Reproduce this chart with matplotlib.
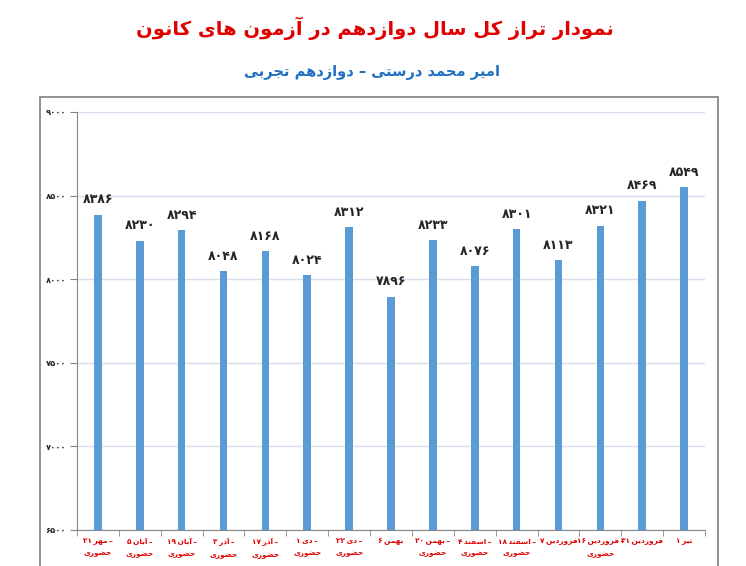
import matplotlib.pyplot as plt
from matplotlib.patches import Rectangle
import numpy as np

# --- data ---
days = ["۲۱", "۵", "۱۹", "۳", "۱۷", "۱", "۲۲", "۶", "۲۰", "۴", "۱۸", "۷", "۱۶", "۳۱", "۱"]
months = ["مهر", "آبان", "آبان", "آذر", "آذر", "دی", "دی", "بهمن", "بهمن",
          "اسفند", "اسفند", "فروردین", "فروردین", "فروردین", "تیر"]
in_person = [1, 1, 1, 1, 1, 1, 1, 0, 1, 1, 1, 0, 1, 0, 0]
scores = [8386, 8230, 8294, 8048, 8168, 8024, 8312, 7896, 8233, 8076, 8301, 8113, 8321, 8469, 8549]
yticks = [6500, 7000, 7500, 8000, 8500, 9000]

title = "نمودار تراز کل سال دوازدهم در آزمون های کانون"
subtitle = "امیر محمد درستی – دوازدهم تجربی"
hozouri = "حضوری"

# --- minimal Persian shaping (isolated, final, initial, medial) ---
FORMS = {
    "ا": ("\uFE8D", "\uFE8E", None, None),
    "آ": ("\uFE81", "\uFE82", None, None),
    "ب": ("\uFE8F", "\uFE90", "\uFE91", "\uFE92"),
    "ت": ("\uFE95", "\uFE96", "\uFE97", "\uFE98"),
    "ج": ("\uFE9D", "\uFE9E", "\uFE9F", "\uFEA0"),
    "ح": ("\uFEA1", "\uFEA2", "\uFEA3", "\uFEA4"),
    "د": ("\uFEA9", "\uFEAA", None, None),
    "ذ": ("\uFEAB", "\uFEAC", None, None),
    "ر": ("\uFEAD", "\uFEAE", None, None),
    "ز": ("\uFEAF", "\uFEB0", None, None),
    "س": ("\uFEB1", "\uFEB2", "\uFEB3", "\uFEB4"),
    "ض": ("\uFEBD", "\uFEBE", "\uFEBF", "\uFEC0"),
    "ف": ("\uFED1", "\uFED2", "\uFED3", "\uFED4"),
    "ک": ("\uFB8E", "\uFB8F", "\uFB90", "\uFB91"),
    "ل": ("\uFEDD", "\uFEDE", "\uFEDF", "\uFEE0"),
    "م": ("\uFEE1", "\uFEE2", "\uFEE3", "\uFEE4"),
    "ن": ("\uFEE5", "\uFEE6", "\uFEE7", "\uFEE8"),
    "و": ("\uFEED", "\uFEEE", None, None),
    "ه": ("\uFEE9", "\uFEEA", "\uFEEB", "\uFEEC"),
    "ی": ("\uFBFC", "\uFBFD", "\uFBFE", "\uFBFF"),
}


def rtl(text):
    out = []
    for i, ch in enumerate(text):
        if ch not in FORMS:
            out.append(ch)
            continue
        iso, fin, ini, med = FORMS[ch]
        prev = text[i - 1] if i > 0 else ""
        nxt = text[i + 1] if i + 1 < len(text) else ""
        pj = prev in FORMS and FORMS[prev][2] is not None
        nj = nxt in FORMS and ini is not None
        if pj and nj:
            out.append(med)
        elif pj:
            out.append(fin)
        elif nj:
            out.append(ini)
        else:
            out.append(iso)
    return "".join(out)[::-1]


FA = str.maketrans("0123456789", "۰۱۲۳۴۵۶۷۸۹")

plt.rcParams["font.family"] = ["DejaVu Sans"]

fig = plt.figure(figsize=(7.46, 5.66), dpi=100)
ax = fig.add_axes([77 / 746, 36 / 566, 628 / 746, 418 / 566])

x = np.arange(len(scores))
ax.bar(x, scores, width=0.18, color="#5B9BD5", zorder=3)
for xi, v in zip(x, scores):
    ax.annotate(str(v).translate(FA), (xi, v), xytext=(0, 6), textcoords="offset points",
                ha="center", va="bottom", fontsize=9, fontweight="bold", color="#262626")

ax.set_xlim(-0.5, len(scores) - 0.5)
ax.set_ylim(6500, 9000)
ax.set_yticks(yticks)
ax.set_yticklabels([str(t).translate(FA) for t in yticks], fontsize=6, fontweight="bold", color="#262626")
ax.grid(axis="y", color="#D6DFEC", linewidth=1, zorder=0)

labels = []
for d, m, p in zip(days, months, in_person):
    line = d + "\u2009" + rtl(m) + ("\u2009–" if p else "")
    if p:
        line += "\n" + rtl(hozouri)
    labels.append(line)
ax.set_xticks(x)
ax.set_xticklabels(labels, fontsize=5.3, fontweight="bold", color="#E00000", va="top", linespacing=2.1)
ax.tick_params(axis="x", length=0, pad=6)
ax.set_xticks(np.arange(-0.5, len(scores)), minor=True)
ax.tick_params(axis="x", which="minor", length=4, color="#868686")
ax.tick_params(axis="y", length=5, color="#868686", pad=3)

for s in ["top", "right"]:
    ax.spines[s].set_visible(False)
for s in ["left", "bottom"]:
    ax.spines[s].set_color("#868686")

# outer frame
fig.patches.append(Rectangle((40 / 746, -0.05), 678 / 746, 1.05 - 97 / 566, transform=fig.transFigure,
                             fill=False, edgecolor="#7F7F7F", linewidth=1.2))

fig.text(375 / 746, 1 - 28 / 566, rtl(title), ha="center", va="center", fontsize=14,
         fontweight="bold", color="#E00000")
fig.text(372 / 746, 1 - 72 / 566, rtl(subtitle), ha="center", va="center", fontsize=10.5,
         fontweight="bold", color="#1F70C1")

fig.savefig("out.png", dpi=100)
